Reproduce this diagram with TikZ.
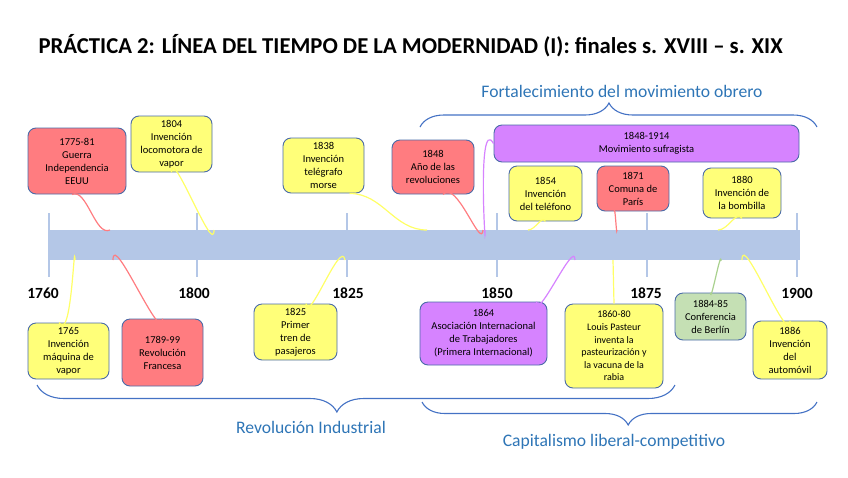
\documentclass[tikz,border=0pt]{standalone}
\usepackage{fontspec}
\setmainfont{Carlito}
\usepackage{xcolor}
\definecolor{tlbar}{HTML}{B4C7E7}
\definecolor{tlline}{HTML}{4A6BA8}
\definecolor{tlyellow}{HTML}{FFFF79}
\definecolor{tlred}{HTML}{FF7C80}
\definecolor{tlpurple}{HTML}{D683FF}
\definecolor{tlgreen}{HTML}{C5E0B4}
\definecolor{tlyelink}{HTML}{FFFF66}
\definecolor{tlgrelink}{HTML}{A9D18E}
\definecolor{tlblue}{HTML}{4472C4}
\definecolor{tltext}{HTML}{2E75B6}
\usetikzlibrary{decorations.pathreplacing}
\tikzset{
  tlbox/.style={draw=tlline,line width=0.9pt,rounded corners=8pt,align=center,inner sep=2pt,font=\fontsize{10.5}{13}\selectfont},
  tlyel/.style={tlbox,fill=tlyellow},
  tlrd/.style={tlbox,fill=tlred},
  tlpur/.style={tlbox,fill=tlpurple},
  tlgre/.style={tlbox,fill=tlgreen},
  tllink/.style={line width=1.2pt},
  tltick/.style={draw=tlbar,line width=1.5pt},
  tlbrace/.style={draw=tlblue,line width=1.1pt,decorate},
  tlera/.style={font=\fontsize{17.6}{20}\selectfont,text=tltext},
  tlyear/.style={font=\fontsize{15.5}{18}\selectfont\bfseries},
}

\begin{document}
\begin{tikzpicture}[x=1pt,y=-1pt]
\useasboundingbox (0,0) rectangle (848,477);
\node[anchor=west,font=\fontsize{22.7}{26}\selectfont\bfseries] (title) at (35,46) {PRÁCTICA 2: LÍNEA DEL TIEMPO DE LA MODERNIDAD (I): finales s. XVIII – s. XIX};
% time axis
\foreach \yr/\xx/\lx in {1760/49/43,1800/197/194,1825/347/348,1850/497/497,1875/647/646,1900/797/797}{
  \draw[tltick] (\xx,213) -- (\xx,277);
  \node[tlyear] (y\yr) at (\lx,293) {\yr};
}
\node[fill=tlbar,minimum width=752pt,minimum height=30pt,inner sep=0pt] (bar) at (424,245) {};
\foreach \nm/\px/\py in {1775/110/230,1804/214/230,1838/427/230,1848/483/230,1914/485/230,1854/528/230,1871/617/230,1880/718/230,
  1765/75/260,1789/113/260,1825/345/260,1864/575/260,1860/613/260,1884/721/261,1886/742/260}
  \coordinate (p\nm) at (\px,\py);
% events above
\node[tlrd,minimum width=98pt,minimum height=66pt] (b1775) at (77,161) {1775-81\\Guerra\\Independencia\\EEUU};
\node[tlyel,minimum width=81pt,minimum height=56pt] (b1804) at (171.5,144) {1804\\Invención\\locomotora de\\vapor};
\node[tlyel,minimum width=81pt,minimum height=55pt] (b1838) at (323.5,165.5) {1838\\Invención\\telégrafo\\morse};
\node[tlrd,minimum width=82pt,minimum height=54pt] (b1848) at (433,167) {1848\\Año de las\\revoluciones};
\node[tlpur,minimum width=305pt,minimum height=37pt] (b1914) at (646.5,143.5) {1848-1914\\Movimiento sufragista};
\node[tlyel,minimum width=73pt,minimum height=55pt] (b1854) at (545.5,193.5) {1854\\Invención\\del teléfono};
\node[tlrd,minimum width=72pt,minimum height=45pt] (b1871) at (633,188.5) {1871\\Comuna de\\París};
\node[tlyel,minimum width=78pt,minimum height=50pt] (b1880) at (742,193) {1880\\Invención de\\la bombilla};
% events below
\node[tlyel,minimum width=81pt,minimum height=56pt] (b1765) at (68.5,351) {1765\\Invención\\máquina de\\vapor};
\node[tlrd,minimum width=81pt,minimum height=67pt] (b1789) at (162.5,352.5) {1789-99\\Revolución\\Francesa};
\node[tlyel,minimum width=83pt,minimum height=56pt] (b1825) at (295.5,332) {1825\\Primer\\tren de\\pasajeros};
\node[tlpur,minimum width=127pt,minimum height=63pt] (b1864) at (483.5,333.5) {1864\\Asociación Internacional\\de Trabajadores\\(Primera Internacional)};
\node[tlyel,minimum width=98pt,minimum height=84pt,font=\fontsize{10}{12.6}\selectfont] (b1860) at (614,346) {1860-80\\Louis Pasteur\\inventa la\\pasteurización y\\la vacuna de la\\rabia};
\node[tlgre,minimum width=71pt,minimum height=47pt] (b1884) at (710.5,316.5) {1884-85\\Conferencia\\de Berlín};
\node[tlyel,minimum width=74pt,minimum height=58pt] (b1886) at (790,350) {1886\\Invención\\del\\automóvil};
% links to the axis
\draw[tllink,tlred] ([xshift=-5pt]b1775.south) to[out=25,in=205,looseness=0.8] (p1775);
\draw[tllink,tlyelink] (b1804.south) to[out=90,in=270] (p1804);
\draw[tllink,tlyelink] ([xshift=26pt]b1838.south) to[out=0,in=180] (p1838);
\draw[tllink,tlred] ([xshift=10pt]b1848.south) to[out=50,in=265] (p1848);
\draw[tllink,tlpurple] (b1914.west) to[out=120,in=272] (p1914);
\draw[tllink,tlyelink] (b1854.south) to[out=120,in=0] (p1854);
\draw[tllink,tlred] ([xshift=-19pt]b1871.south) to[out=80,in=265] (p1871);
\draw[tllink,tlyelink] (b1880.south) to[out=120,in=0] (p1880);
\draw[tllink,tlyelink] (p1765) to[out=92,in=300] ([xshift=-9.5pt]b1765.north);
\draw[tllink,tlred] (p1789) to[out=90,in=270] (b1789.north);
\draw[tllink,tlyelink] (p1825) to[out=100,in=275] ([xshift=10.5pt]b1825.north);
\draw[tllink,tlpurple] ([xshift=53pt]b1864.north) to[out=270,in=90] (p1864);
\draw[tllink,tlyelink] (b1860.north) -- (p1860);
\draw[tllink,tlgrelink] (b1884.north) to[out=270,in=90] (p1884);
\draw[tllink,tlyelink] (p1886) to[out=90,in=270] (b1886.north);
% periods
\draw[tlbrace,decoration={brace,amplitude=24pt,aspect=0.476}] (420,127) -- (817,127);
\draw[tlbrace,decoration={brace,mirror,amplitude=27pt,aspect=0.47}] (37,385) -- (675,385);
\draw[tlbrace,decoration={brace,mirror,amplitude=23pt,aspect=0.522}] (422,402) -- (817,402);
\node[tlera] (obrero) at (622,91) {Fortalecimiento del movimiento obrero};
\node[tlera] (industrial) at (311,427) {Revolución Industrial};
\node[tlera] (capital) at (614,442) {Capitalismo liberal-competitivo};
\end{tikzpicture}
\end{document}
